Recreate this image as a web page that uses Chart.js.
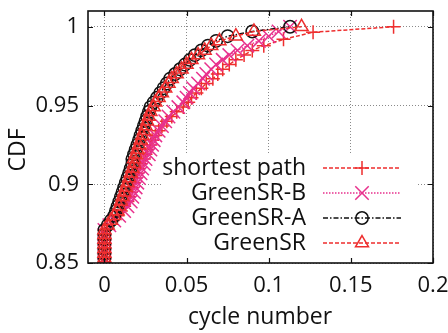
<!DOCTYPE html>
<html><head><meta charset="utf-8">
<script src="https://cdn.jsdelivr.net/npm/chart.js@4.4.0/dist/chart.umd.min.js"></script>
<style>html,body{margin:0;padding:0;background:#fff;}</style>
</head><body>
<canvas id="c" width="448" height="333" style="display:block;width:448px;height:333px"></canvas>
<script>
const seriesNames = ["shortest path", "GreenSR-B", "GreenSR-A", "GreenSR"];
const xTicks = [0, 0.05, 0.1, 0.15, 0.2];
const xTickLabels = ["0", "0.05", "0.1", "0.15", "0.2"];
const yTicks = [0.85, 0.9, 0.95, 1];
const yTickLabels = ["0.85", "0.9", "0.95", "1"];

const spX = [0,0,0,0,0,0,0,0,
  0.002,0.005,0.008,0.010,0.012,0.014,0.015,0.016,0.017,0.018,
  0.019,0.020,0.021,0.022,0.024,0.025,0.026,0.028,0.029,0.031,
  0.033,0.035,0.038,0.041,0.044,0.048,0.051,0.053,0.056,0.059,
  0.062,0.066,0.069,0.072,0.076,0.080,0.085,0.090,0.097,
  0.109,0.127,0.176];
const spY = [0.850,0.853,0.856,0.859,0.862,0.865,0.868,0.871,
  0.874,0.877,0.880,0.883,0.886,0.889,0.892,0.895,0.898,0.901,
  0.904,0.907,0.910,0.913,0.916,0.919,0.922,0.925,0.928,0.931,
  0.934,0.937,0.940,0.943,0.946,0.949,0.952,0.955,0.958,0.961,
  0.964,0.967,0.970,0.973,0.976,0.979,0.982,0.985,0.988,
  0.992,0.9965,1.000];

const bX = [0,0,0,0,0,0,0,0,
  0.003,0.006,0.009,0.012,0.014,0.016,0.017,0.018,0.019,0.020,
  0.021,0.022,0.023,0.024,0.025,0.027,0.028,0.029,0.030,0.031,
  0.033,0.035,0.037,0.039,0.042,0.045,0.048,0.050,0.052,0.054,
  0.057,0.060,0.062,0.065,0.068,0.072,0.076,0.081,0.087,0.094,
  0.100,0.106,0.113];
const bY = [0.850,0.853,0.856,0.859,0.862,0.865,0.868,0.871,
  0.874,0.877,0.880,0.883,0.886,0.889,0.892,0.895,0.898,0.901,
  0.904,0.907,0.910,0.913,0.916,0.919,0.922,0.925,0.928,0.931,
  0.934,0.937,0.940,0.943,0.946,0.949,0.952,0.955,0.958,0.961,
  0.964,0.967,0.970,0.973,0.976,0.979,0.982,0.985,0.988,0.991,
  0.994,0.997,1.000];

const aX = [0,0,0,0,0,0,0,0,
  0.002,0.004,0.006,0.007,0.008,0.009,0.010,0.011,0.012,0.013,
  0.014,0.015,0.016,0.017,0.017,0.018,0.019,0.020,0.021,0.022,
  0.023,0.024,0.025,0.026,0.027,0.028,0.030,0.032,0.034,0.036,
  0.038,0.040,0.043,0.046,0.049,0.052,0.055,0.059,0.063,0.068,
  0.075,0.090,0.113];
const aY = [0.850,0.853,0.856,0.859,0.862,0.865,0.868,0.871,
  0.874,0.877,0.880,0.883,0.886,0.889,0.892,0.895,0.898,0.901,
  0.904,0.907,0.910,0.913,0.916,0.919,0.922,0.925,0.928,0.931,
  0.934,0.937,0.940,0.943,0.946,0.949,0.952,0.955,0.958,0.961,
  0.964,0.967,0.970,0.973,0.976,0.979,0.982,0.985,0.988,0.991,
  0.994,0.997,1.000];

const gX = [0,0,0,0,0,0,0,0,
  0.002,0.004,0.006,0.008,0.009,0.010,0.011,0.012,0.013,0.014,
  0.015,0.016,0.017,0.018,0.018,0.019,0.020,0.021,0.022,0.023,
  0.024,0.025,0.026,0.027,0.028,0.030,0.031,0.033,0.035,0.037,
  0.039,0.041,0.044,0.047,0.050,0.053,0.057,0.061,0.065,0.070,
  0.080,0.091,0.120];
const gY = [0.850,0.853,0.856,0.859,0.862,0.865,0.868,0.871,
  0.874,0.877,0.880,0.883,0.886,0.889,0.892,0.895,0.898,0.901,
  0.904,0.907,0.910,0.913,0.916,0.919,0.922,0.925,0.928,0.931,
  0.934,0.937,0.940,0.943,0.946,0.949,0.952,0.955,0.958,0.961,
  0.964,0.967,0.970,0.973,0.976,0.979,0.982,0.985,0.988,0.991,
  0.994,0.997,1.000];

const RED = '#ee2e2e', PINK = '#e8318d', BLACK = '#111111';
const FONT = "'Open Sans', 'DejaVu Sans', sans-serif";
const styles = [
  {color: RED,   dash: [4, 2],          point: 'cross',    r: 7},
  {color: PINK,  dash: [1.5, 1.5],      point: 'crossRot', r: 9.5},
  {color: BLACK, dash: [5, 2, 1.5, 2],  point: 'circle',   r: 6.2},
  {color: RED,   dash: [4, 2],          point: 'triangle', r: 7.5}
];
const seriesData = [[spX, spY], [bX, bY], [aX, aY], [gX, gY]];

const datasets = seriesData.map((s, i) => ({
  label: seriesNames[i],
  data: s[0].map((x, k) => ({x: x, y: s[1][k]})),
  showLine: true,
  borderColor: styles[i].color,
  backgroundColor: 'rgba(0,0,0,0)',
  borderWidth: 1.5,
  borderDash: styles[i].dash,
  pointStyle: styles[i].point,
  pointRadius: styles[i].r,
  pointBorderWidth: 1.5,
  pointBorderColor: styles[i].color,
  pointBackgroundColor: 'rgba(0,0,0,0)',
  order: 4 - i
}));

const decor = {
  id: 'decor',
  beforeDatasetsDraw(chart) {
    const c = chart.ctx;
    c.save();
    c.fillStyle = '#fff';
    c.fillRect(163, 153, 253, 110);
    c.restore();
  },
  afterDatasetsDraw(chart) {
    const c = chart.ctx, a = chart.chartArea, x = chart.scales.x, y = chart.scales.y;
    c.save();
    c.setLineDash([]);
    c.strokeStyle = '#111';
    c.lineWidth = 1.2;
    c.beginPath();
    xTicks.forEach(v => {
      const px = Math.round(x.getPixelForValue(v)) + 0.5;
      c.moveTo(px, a.bottom); c.lineTo(px, a.bottom - 5);
      c.moveTo(px, a.top); c.lineTo(px, a.top + 5);
    });
    yTicks.forEach(v => {
      const py = Math.round(y.getPixelForValue(v)) + 0.5;
      c.moveTo(a.left, py); c.lineTo(a.left + 5, py);
      c.moveTo(a.right, py); c.lineTo(a.right - 5, py);
    });
    c.stroke();
    c.lineWidth = 1.6;
    c.strokeRect(a.left, a.top, a.right - a.left, a.bottom - a.top);

    // legend
    const rows = [168, 193, 218, 243];
    c.font = '23px ' + FONT;
    c.textAlign = 'right';
    c.textBaseline = 'middle';
    seriesNames.forEach((name, i) => {
      const st = styles[i];
      c.fillStyle = '#111';
      c.fillText(name, 306, rows[i]);
      c.strokeStyle = st.color;
      c.lineWidth = 1.5;
      c.setLineDash(st.dash);
      c.beginPath();
      c.moveTo(323, rows[i]); c.lineTo(401, rows[i]);
      c.stroke();
      c.setLineDash([]);
      c.fillStyle = 'rgba(0,0,0,0)';
      c.strokeStyle = st.color;
      c.lineWidth = 1.5;
      Chart.helpers.drawPoint(c, {pointStyle: st.point, radius: st.r, borderWidth: 1.5, rotation: 0}, 362, rows[i]);
    });

    // axis titles
    c.fillStyle = '#111';
    c.font = '23px ' + FONT;
    c.textAlign = 'center';
    c.textBaseline = 'middle';
    c.fillText('cycle number', 260, 317);
    c.translate(18, 150);
    c.rotate(-Math.PI / 2);
    c.fillText('CDF', 0, 0);
    c.restore();
  }
};

Chart.defaults.color = '#111';
new Chart(document.getElementById('c'), {
  type: 'scatter',
  data: {datasets: datasets},
  options: {
    responsive: false,
    animation: false,
    devicePixelRatio: 1,
    layout: {padding: {left: 0, right: 15, top: 8, bottom: 0}},
    plugins: {legend: {display: false}, tooltip: {enabled: false}},
    scales: {
      x: {
        type: 'linear', min: -0.01, max: 0.2,
        afterBuildTicks: s => { s.ticks = xTicks.map(v => ({value: v})); },
        afterFit: s => { s.height = 70; s.paddingLeft = 0; s.paddingRight = 0; },
        ticks: {font: {size: 22, family: FONT}, padding: 10, maxRotation: 0,
                callback: (v, i) => xTickLabels[i]},
        grid: {color: '#8a8a8a', lineWidth: 1, drawTicks: false},
        border: {display: false, dash: [1, 2]}
      },
      y: {
        type: 'linear', min: 0.85, max: 1.01,
        afterBuildTicks: s => { s.ticks = yTicks.map(v => ({value: v})); },
        afterFit: s => { s.width = 88; s.paddingTop = 0; s.paddingBottom = 0; },
        ticks: {font: {size: 22, family: FONT}, padding: 9,
                callback: (v, i) => yTickLabels[i]},
        grid: {color: '#8a8a8a', lineWidth: 1, drawTicks: false},
        border: {display: false, dash: [1, 2]}
      }
    }
  },
  plugins: [decor]
});
</script>
</body></html>
